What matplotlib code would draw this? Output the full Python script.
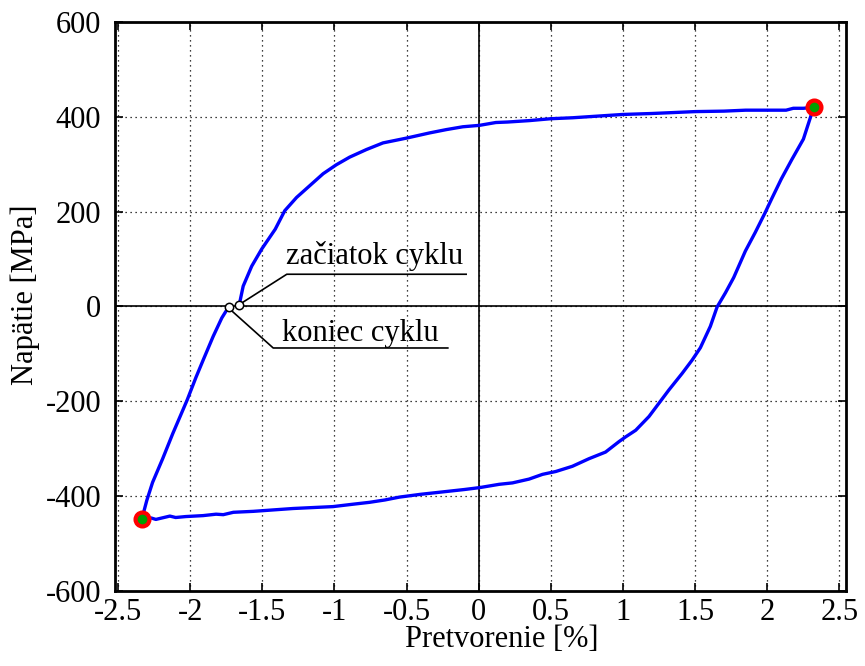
import matplotlib
matplotlib.use("Agg")
import matplotlib.pyplot as plt

plt.rcParams['font.family'] = ['Liberation Serif', 'DejaVu Serif']
plt.rcParams['axes.unicode_minus'] = False

# Hysteresis loop, strain [%] vs stress [MPa]
upper_x = [-1.659, -1.632, -1.573, -1.504, -1.41, -1.344, -1.262, -1.170, -1.078,
           -0.986, -0.894, -0.778, -0.663, -0.502, -0.341, -0.225, -0.110, 0.005, 0.119,
           0.20, 0.35, 0.5, 0.65, 0.8, 1.0, 1.2, 1.35, 1.5, 1.7, 1.85, 2.0, 2.13, 2.18, 2.25, 2.32]
upper_y = [4, 43, 85, 121, 163, 202, 230, 255, 280,
           299, 315, 331, 345, 355, 366, 373, 379, 382, 388,
           389, 392, 396, 398, 401, 405, 407, 409, 411, 412, 414, 414, 414, 418, 418, 420]

down_x = [2.30, 2.25, 2.17, 2.097, 2.03, 1.985, 1.916, 1.848, 1.767, 1.710, 1.652, 1.605,
          1.536, 1.479, 1.41, 1.318, 1.249, 1.18, 1.088, 1.018, 0.972, 0.879, 0.764, 0.649,
          0.534, 0.442, 0.349, 0.234, 0.142, 0.005, -0.1, -0.25, -0.4, -0.55, -0.65, -0.757,
          -0.872, -1.01, -1.148, -1.286, -1.424, -1.562, -1.70, -1.77, -1.82, -1.91, -2.03,
          -2.10, -2.14, -2.237, -2.27, -2.335]
down_y = [400, 353, 310, 269, 227, 198, 156, 117, 61, 29, -1, -42,
          -87, -113, -141, -176, -204, -232, -261, -275, -285, -307, -321, -337,
          -348, -354, -364, -372, -375, -382, -386, -391, -396, -402, -408, -413,
          -417, -422, -424, -426, -429, -432, -434, -439, -438, -441, -443,
          -445, -442, -449, -446, -449]

up_x = [-2.30, -2.26, -2.19, -2.12, -2.065, -2.02, -1.96, -1.908, -1.84, -1.78, -1.733]
up_y = [-409, -371, -321, -268, -229, -197, -150, -112, -63, -24, -1]

peak_x = [2.32, -2.335]
peak_y = [420, -449]

start_pt = (-1.659, 4)
end_pt = (-1.733, -1)

x_ticks = [-2.5, -2, -1.5, -1, -0.5, 0, 0.5, 1, 1.5, 2, 2.5]
x_ticklabels = ['-2.5', '-2', '-1.5', '-1', '-0.5', '0', '0.5', '1', '1.5', '2', '2.5']
y_ticks = [-600, -400, -200, 0, 200, 400, 600]
y_ticklabels = ['-600', '-400', '-200', '0', '200', '400', '600']

xs = upper_x + down_x + up_x
ys = upper_y + down_y + up_y

fig = plt.figure(figsize=(8.65, 6.66), dpi=100)
ax = fig.add_axes([0.133, 0.1126, 0.845, 0.8544])

ax.set_xlim(-2.52, 2.545)
ax.set_ylim(-600, 600)

ax.grid(True, linestyle=(0, (1, 3)), color='black', linewidth=0.9)
ax.axhline(0, color='black', linewidth=1.2, zorder=2)
ax.axvline(0, color='black', linewidth=1.2, zorder=2)

ax.plot(xs, ys, color='#0000ff', linewidth=2.4, zorder=3)
ax.plot(peak_x, peak_y, linestyle='none', marker='o', markersize=10,
        markerfacecolor='#00a000', markeredgecolor='#ff0000', markeredgewidth=3, zorder=5)

# annotation leader lines
ax.plot([start_pt[0] + 0.02, -1.33, -0.087], [8, 68, 68], color='black', linewidth=1.2, zorder=4)
ax.plot([end_pt[0] + 0.01, -1.424, -0.214], [-6, -87.5, -87.5], color='black', linewidth=1.2, zorder=4)

ax.plot([start_pt[0], end_pt[0]], [start_pt[1], end_pt[1]], linestyle='none', marker='o',
        markersize=6, markerfacecolor='white', markeredgecolor='black', markeredgewidth=1.1, zorder=6)

ax.text(-1.335, 89, 'začiatok cyklu', fontsize=22, ha='left', va='baseline')
ax.text(-1.36, -72, 'koniec cyklu', fontsize=22, ha='left', va='baseline')

ax.set_xticks(x_ticks)
ax.set_xticklabels(x_ticklabels)
ax.set_yticks(y_ticks)
ax.set_yticklabels(y_ticklabels)
ax.tick_params(direction='in', length=6, width=1.2, top=True, right=True,
               labelsize=22, pad=5)
ax.tick_params(axis='y', pad=10)

for s in ax.spines.values():
    s.set_linewidth(2)

ax.set_xlabel('Pretvorenie [%]', fontsize=22)
ax.set_ylabel('Napätie [MPa]', fontsize=22)
ax.xaxis.label.set_va('baseline')
ax.xaxis.set_label_coords(0.529, -0.098, transform=ax.transAxes)
ax.yaxis.label.set_va('center')
ax.yaxis.set_label_coords(-0.123, 0.52, transform=ax.transAxes)

fig.savefig('out.png', dpi=100)
